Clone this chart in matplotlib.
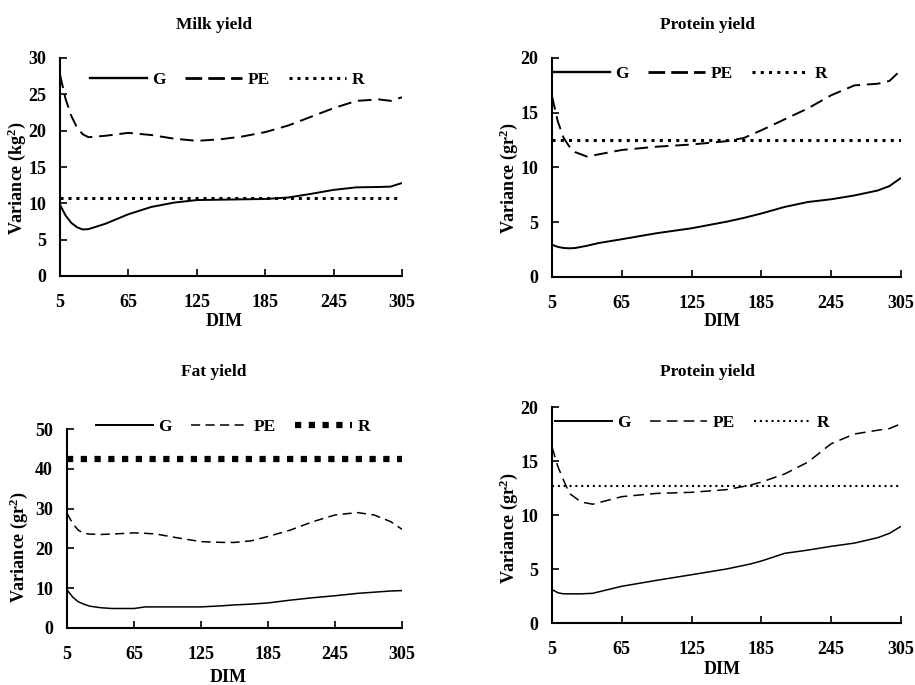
import matplotlib
matplotlib.use("Agg")
import matplotlib.pyplot as plt
from matplotlib.lines import Line2D

plt.rcParams['font.family'] = ['Liberation Serif', 'DejaVu Serif']
plt.rcParams['font.weight'] = 'bold'
plt.rcParams['mathtext.fontset'] = 'custom'
plt.rcParams['mathtext.rm'] = 'Liberation Serif:bold'
plt.rcParams['mathtext.it'] = 'Liberation Serif:bold'
plt.rcParams['mathtext.bf'] = 'Liberation Serif:bold'

# ---------------- data ----------------
titles = ["Milk yield", "Protein yield", "Fat yield", "Protein yield"]
ylabels = ["Variance (kg$^{2}$)", "Variance (gr$^{2}$)", "Variance (gr$^{2}$)", "Variance (gr$^{2}$)"]
series_names = ["G", "PE", "R"]
xticks = [5, 65, 125, 185, 245, 305]

# Milk yield
milk_dim = [5, 10, 15, 20, 25, 30, 45, 65, 85, 105, 125, 145, 165, 185, 205, 225, 245, 265, 285, 295, 305]
milk_G = [9.8, 8.3, 7.3, 6.7, 6.4, 6.45, 7.2, 8.5, 9.5, 10.1, 10.45, 10.5, 10.55, 10.6, 10.8, 11.3, 11.85, 12.2, 12.25, 12.3, 12.8]
milk_PE = [27.7, 24.3, 22.0, 20.4, 19.5, 19.1, 19.3, 19.7, 19.4, 18.9, 18.6, 18.8, 19.2, 19.8, 20.7, 21.9, 23.1, 24.1, 24.3, 24.1, 24.6]
milk_R = 10.7

# Protein yield (top)
prot1_dim = [5, 10, 15, 20, 25, 35, 45, 65, 95, 125, 155, 170, 185, 205, 225, 245, 265, 285, 295, 305]
prot1_G = [2.95, 2.75, 2.65, 2.62, 2.65, 2.85, 3.1, 3.45, 4.0, 4.45, 5.05, 5.4, 5.8, 6.4, 6.85, 7.1, 7.45, 7.9, 8.3, 9.05]
prot1_PE = [16.5, 14.2, 12.7, 11.9, 11.4, 11.0, 11.2, 11.6, 11.9, 12.1, 12.4, 12.7, 13.4, 14.4, 15.4, 16.6, 17.5, 17.65, 17.9, 18.9]
prot1_R = 12.55

# Fat yield
fat_dim = [5, 10, 15, 20, 25, 35, 45, 65, 75, 85, 105, 125, 145, 155, 170, 185, 205, 225, 245, 265, 280, 295, 305]
fat_G = [9.6, 7.8, 6.6, 6.0, 5.5, 5.1, 4.9, 4.9, 5.3, 5.3, 5.3, 5.3, 5.6, 5.8, 6.0, 6.3, 7.0, 7.6, 8.1, 8.7, 9.0, 9.3, 9.4]
fat_PE = [28.8, 26.3, 24.6, 23.8, 23.6, 23.5, 23.6, 23.9, 23.8, 23.6, 22.6, 21.7, 21.5, 21.5, 21.9, 23.0, 24.6, 26.7, 28.4, 29.0, 28.4, 26.7, 24.8]
fat_R = 42.4

# Protein yield (bottom)
prot2_dim = [5, 10, 15, 20, 30, 40, 65, 95, 125, 155, 175, 185, 205, 225, 245, 265, 285, 295, 305]
prot2_G = [3.1, 2.8, 2.7, 2.7, 2.7, 2.75, 3.4, 3.95, 4.47, 5.0, 5.45, 5.74, 6.45, 6.75, 7.1, 7.4, 7.9, 8.3, 8.95]
prot2_PE = [16.3, 14.5, 13.2, 12.0, 11.2, 11.0, 11.7, 12.0, 12.1, 12.35, 12.75, 13.05, 13.8, 14.9, 16.6, 17.5, 17.85, 18.0, 18.45]
prot2_R = 12.65

yticks_list = [[0, 5, 10, 15, 20, 25, 30], [0, 5, 10, 15, 20], [0, 10, 20, 30, 40, 50], [0, 5, 10, 15, 20]]

panels = [
    (milk_dim, milk_G, milk_PE, milk_R),
    (prot1_dim, prot1_G, prot1_PE, prot1_R),
    (fat_dim, fat_G, fat_PE, fat_R),
    (prot2_dim, prot2_G, prot2_PE, prot2_R),
]

# ---------------- layout (pixels) ----------------
W, H = 915, 685
fig = plt.figure(figsize=(W / 100, H / 100), dpi=100)

# left, right, top, bottom of each axes in pixels
boxes = [(60, 402, 58, 276), (552, 901, 58, 277), (67, 402, 429, 628), (552, 901, 407, 623)]
title_pos = [(214, 25), (708, 25), (214, 372), (708, 372)]
xlabel_pos = [(224, 322), (722, 322), (228, 678), (722, 670)]
ylabel_pos = [(17, 178), (509, 178), (19, 547), (509, 528)]
legend_pos = [(90, 80), (553, 74), (96, 427), (555, 423)]

# line styles per panel
styles = [
    dict(g_lw=1.4, pe_lw=1.4, pe_d=(7, 3.5), r_lw=2.2, r_d=(1.0, 1.6)),
    dict(g_lw=1.4, pe_lw=1.4, pe_d=(7, 3.5), r_lw=2.2, r_d=(1.0, 1.7)),
    dict(g_lw=1.1, pe_lw=1.1, pe_d=(6, 3.5), r_lw=4.5, r_d=(1.0, 1.2)),
    dict(g_lw=1.1, pe_lw=1.1, pe_d=(7, 4), r_lw=1.5, r_d=(1.0, 1.8)),
]

for i, (dim, g, pe, r) in enumerate(panels):
    l, rr, t, b = boxes[i]
    ax = fig.add_axes([l / W, 1 - b / H, (rr - l) / W, (b - t) / H])
    st = styles[i]
    ax.plot(dim, g, color='black', lw=st['g_lw'], solid_capstyle='butt')
    ax.plot(dim, pe, color='black', lw=st['pe_lw'], linestyle=(0, st['pe_d']), dash_capstyle='butt')
    ax.plot([dim[0], dim[-1]], [r, r], color='black', lw=st['r_lw'], linestyle=(0, st['r_d']), dash_capstyle='butt')

    ax.set_xlim(5, 305)
    ax.set_ylim(yticks_list[i][0], yticks_list[i][-1])
    ax.set_xticks(xticks)
    ax.set_yticks(yticks_list[i])
    for s in ['top', 'right']:
        ax.spines[s].set_visible(False)
    for s in ['left', 'bottom']:
        ax.spines[s].set_linewidth(1.5)
    ax.tick_params(axis='both', direction='in', length=5, width=1.2, labelsize=13)
    ax.tick_params(axis='x', pad=13)
    ax.tick_params(axis='y', pad=10)
    for lab in ax.get_xticklabels() + ax.get_yticklabels():
        lab.set_fontweight('bold')

    fig.text(title_pos[i][0] / W, 1 - title_pos[i][1] / H, titles[i], ha='center', va='center',
             fontsize=12.5, fontweight='bold')
    fig.text(xlabel_pos[i][0] / W, 1 - xlabel_pos[i][1] / H, "DIM", ha='center', va='center',
             fontsize=13, fontweight='bold')
    fig.text(ylabel_pos[i][0] / W, 1 - ylabel_pos[i][1] / H, ylabels[i], ha='center', va='center',
             rotation=90, fontsize=13, fontweight='bold')

    handles = [
        Line2D([], [], color='black', lw=st['g_lw'] + 0.3),
        Line2D([], [], color='black', lw=st['pe_lw'] + 0.6 if i < 2 else st['pe_lw'],
               linestyle=(0, st['pe_d']) if i >= 2 else (0, (6, 2.2)), dash_capstyle='butt'),
        Line2D([], [], color='black', lw=st['r_lw'], linestyle=(0, st['r_d']), dash_capstyle='butt'),
    ]
    ax.legend(handles, series_names, ncol=3, frameon=False, loc='center left',
              bbox_to_anchor=(legend_pos[i][0] / W, 1 - legend_pos[i][1] / H),
              bbox_transform=fig.transFigure, borderpad=0, borderaxespad=0,
              handlelength=3.3, handletextpad=0.3, columnspacing=1.1,
              prop={'family': 'Liberation Serif', 'weight': 'bold', 'size': 12.5})

fig.savefig("out.png", dpi=100)
